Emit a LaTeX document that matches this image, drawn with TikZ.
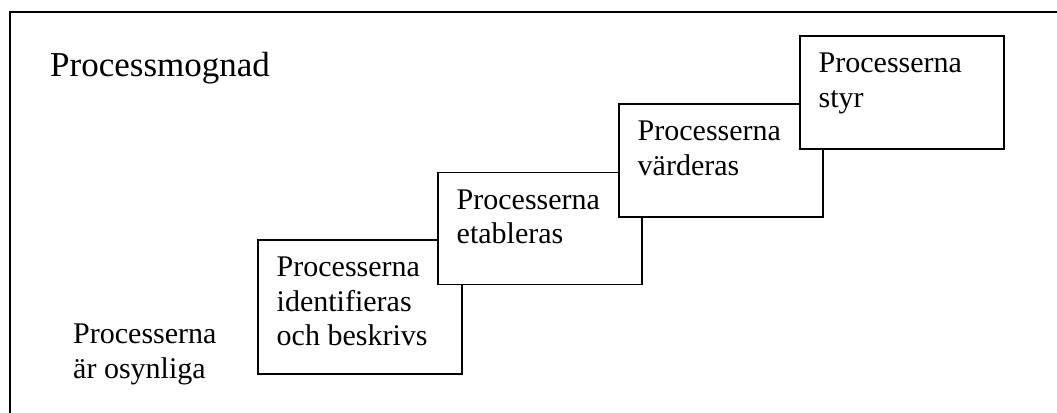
\documentclass[tikz,border=0pt]{standalone}
\usepackage{fontspec}
\setmainfont{Liberation Serif}
\newcommand\myboxfont{\fontsize{30bp}{34.5bp}\selectfont}
\newcommand\mytitlefont{\fontsize{35bp}{42bp}\selectfont}
\tikzset{
  stepbox/.style={draw, line width=1.6bp, fill=white, inner sep=0pt,
    minimum width=204bp, minimum height=113bp, anchor=north west},
  boxtext/.style={font=\myboxfont, align=left, inner sep=0pt, anchor=north west},
  frameline/.style={line width=1.6bp}
}
\begin{document}
\begin{tikzpicture}[x=1bp,y=-1bp]
\useasboundingbox (0,0) rectangle (1057,412);
% outer frame (left and top edges)
\coordinate (fb) at (10,413);
\coordinate (ftl) at (10,12);
\coordinate (ftr) at (1058,12);
\draw[frameline] (fb) -- (ftl) -- (ftr);
% title
\node[font=\mytitlefont, anchor=base west, inner sep=0pt] (title) at (50,76.7) {Processmognad};
% left label
\node[boxtext] (inv) at (73,319.2) {\strut Processerna\\är osynliga};
% steps
\node[stepbox, minimum height=134bp] (b1) at (257,239) {};
\node[boxtext] (t1) at ([xshift=19.5bp,yshift=-13.4bp]b1.north west) {\strut Processerna\\identifieras\\och beskrivs};
\node[stepbox, minimum height=112bp] (b2) at (437,171.5) {};
\node[boxtext] (t2) at ([xshift=19.5bp,yshift=-13.4bp]b2.north west) {\strut Processerna\\etableras};
\node[stepbox] (b3) at (618,103) {};
\node[boxtext] (t3) at ([xshift=19.5bp,yshift=-13.4bp]b3.north west) {\strut Processerna\\värderas};
\node[stepbox] (b4) at (799,35) {};
\node[boxtext] (t4) at ([xshift=19.5bp,yshift=-13.4bp]b4.north west) {\strut Processerna\\styr};
\end{tikzpicture}
\end{document}
